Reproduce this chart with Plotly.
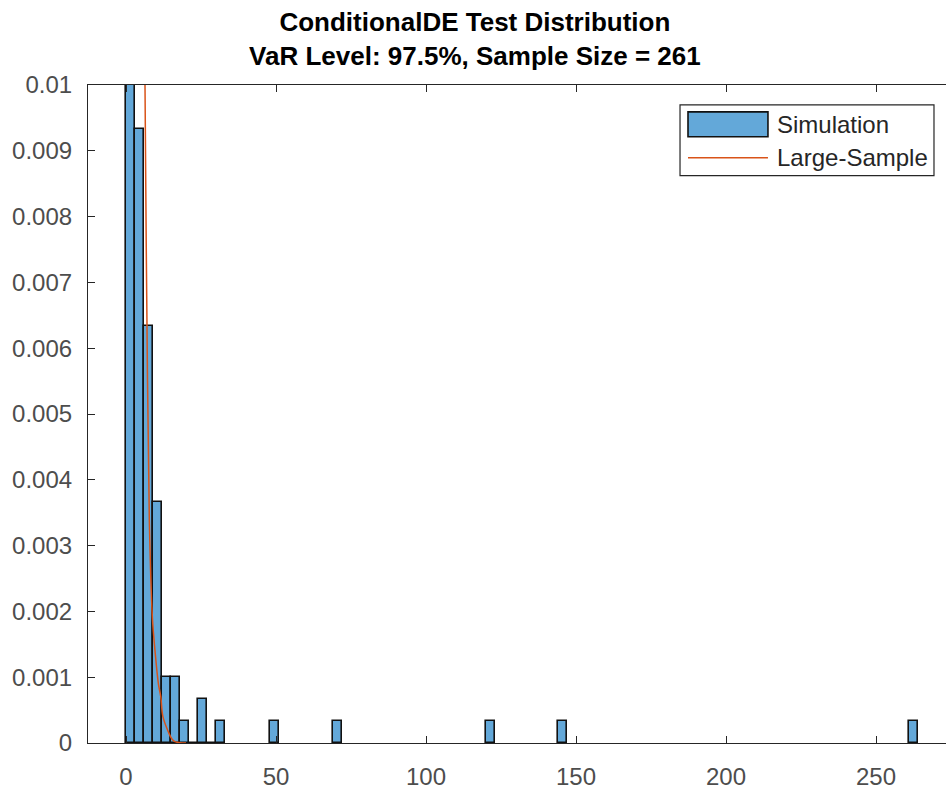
import plotly.graph_objects as go

# ---- data ----
n_sims = 1000
bin_width = 3
bin_left = [0, 3, 6, 9, 12, 15, 18, 21, 24, 27, 30, 48, 69, 120, 144, 261]
bin_count = [927, 28, 19, 11, 3, 3, 1, 0, 2, 0, 1, 1, 1, 1, 1, 1]

curve_x = [6.0, 6.33, 6.9, 7.77, 8.8, 9.67, 10.8, 11.6, 12.3, 14.1, 15.3, 16.3, 18.0, 20.0]
curve_y = [0.0125, 0.0100, 0.0068, 0.0034, 0.0019, 0.0014, 0.0009, 0.0007, 0.0004,
           0.00017, 0.00006, 0.00002, 0.000005, 0.0]

x_ticks = [0, 50, 100, 150, 200, 250]
y_ticks = [0, 0.001, 0.002, 0.003, 0.004, 0.005, 0.006, 0.007, 0.008, 0.009, 0.01]
y_ticktext = ["0", "0.001", "0.002", "0.003", "0.004", "0.005", "0.006", "0.007",
              "0.008", "0.009", "0.01"]

series_names = ["Simulation", "Large-Sample"]

bin_center = [b + bin_width / 2 for b in bin_left]
density = [c / (n_sims * bin_width) for c in bin_count]

AX = "#262626"
BAR_FILL = "#63a8d9"
BAR_EDGE = "#111111"
LINE_COL = "#d95319"
FONT = "Liberation Sans, Arial, Helvetica, sans-serif"

fig = go.Figure()
fig.add_trace(go.Bar(
    x=bin_center, y=density, width=bin_width, name=series_names[0], showlegend=False,
    marker=dict(color=BAR_FILL, line=dict(color=BAR_EDGE, width=1.6)),
))
fig.add_trace(go.Scatter(
    x=curve_x, y=curve_y, mode="lines", name=series_names[1], line_shape="spline",
    showlegend=False, line=dict(color=LINE_COL, width=1.5),
))

# legend box drawn in paper coordinates (MATLAB-style wide swatches)
shapes = [
    dict(type="rect", xref="paper", yref="paper", x0=0.690, x1=0.986, y0=0.8623, y1=0.9697,
         line=dict(color=AX, width=1.2), fillcolor="white", layer="above"),
    dict(type="rect", xref="paper", yref="paper", x0=0.6993, x1=0.7925, y0=0.9213, y1=0.9592,
         line=dict(color=BAR_EDGE, width=1.6), fillcolor=BAR_FILL, layer="above"),
    dict(type="line", xref="paper", yref="paper", x0=0.6993, x1=0.7925, y0=0.8896, y1=0.8896,
         line=dict(color=LINE_COL, width=1.5), layer="above"),
]
annotations = [
    dict(text=series_names[0], xref="paper", yref="paper", x=0.8005, y=0.9395,
         xanchor="left", yanchor="middle", showarrow=False,
         font=dict(size=24, color=AX, family=FONT)),
    dict(text=series_names[1], xref="paper", yref="paper", x=0.8005, y=0.8896,
         xanchor="left", yanchor="middle", showarrow=False,
         font=dict(size=24, color=AX, family=FONT)),
]

fig.update_layout(
    width=946, height=790,
    margin=dict(l=88, r=0, t=85, b=44),
    paper_bgcolor="white", plot_bgcolor="white",
    font=dict(family=FONT, color=AX),
    title=dict(
        text="<b>ConditionalDE Test Distribution<br>VaR Level: 97.5%, Sample Size = 261</b>",
        x=0.502, xref="container", xanchor="center",
        y=1 - 31 / 790, yref="container", yanchor="top",
        font=dict(size=26, color="#000000", family=FONT),
    ),
    shapes=shapes,
    annotations=annotations,
    bargap=0,
)
fig.update_xaxes(
    range=[-12.67, 273.33], tickvals=x_ticks, ticktext=[str(v) for v in x_ticks],
    showgrid=False, zeroline=False, showline=True, linecolor=AX, linewidth=1.2,
    mirror="ticks", ticks="inside", ticklen=7, tickcolor=AX, tickwidth=1.2,
    tickfont=dict(size=24, color="#4d4d4d"), ticklabelstandoff=12,
)
fig.update_yaxes(
    range=[0, 0.01], tickvals=y_ticks, ticktext=y_ticktext,
    showgrid=False, zeroline=False, showline=True, linecolor=AX, linewidth=1.2,
    mirror=False, ticks="inside", ticklen=7, tickcolor=AX, tickwidth=1.2,
    tickfont=dict(size=24, color="#4d4d4d"), ticklabelstandoff=10,
)

fig.write_html("out.html")
